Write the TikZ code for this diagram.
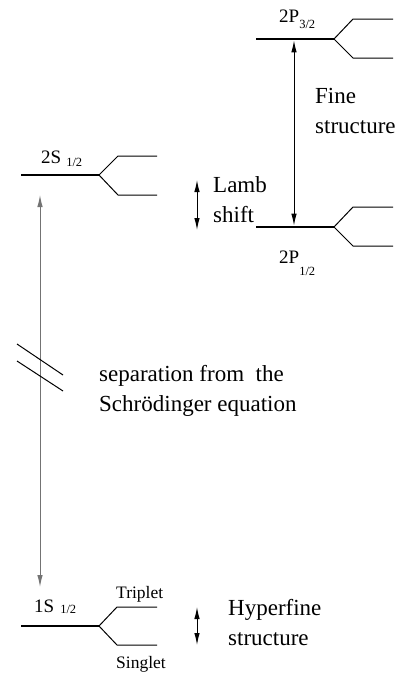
\documentclass[tikz,border=0pt]{standalone}
\usepackage{fontspec}
\setmainfont{Liberation Serif}
\usetikzlibrary{arrows.meta}
\tikzset{
  level/.style={line width=2.8pt},
  fork/.style={line width=1pt},
  dbl/.style={line width=1pt,{Latex[length=12pt,width=5.5pt]}-{Latex[length=12pt,width=5.5pt]}},
  lbl/.style={inner sep=0pt,anchor=base west,font=\fontsize{19}{22}\selectfont},
  txt/.style={inner sep=0pt,anchor=base west,align=left,font=\fontsize{23}{30}\selectfont},
  small/.style={inner sep=0pt,anchor=base west,font=\fontsize{17.5}{20}\selectfont},
}
\newcommand{\subsz}{\fontsize{12.5}{14}\selectfont}
\begin{document}
\begin{tikzpicture}[x=1pt,y=-1pt]
\useasboundingbox (0,0) rectangle (416,673);
% 2P3/2
\coordinate (p3a) at (256,39); \coordinate (p3b) at (334,39);
\coordinate (p3u) at (353,19); \coordinate (p3ue) at (393,19);
\coordinate (p3d) at (353,58); \coordinate (p3de) at (393,58);
\draw[level] (p3a) -- (p3b);
\draw[fork] (p3ue) -- (p3u) -- (p3b) -- (p3d) -- (p3de);
% 2P1/2
\coordinate (p1a) at (256,227); \coordinate (p1b) at (334,227);
\coordinate (p1u) at (353,207); \coordinate (p1ue) at (393,207);
\coordinate (p1d) at (353,246); \coordinate (p1de) at (393,246);
\draw[level] (p1a) -- (p1b);
\draw[fork] (p1ue) -- (p1u) -- (p1b) -- (p1d) -- (p1de);
% 2S1/2
\coordinate (s2a) at (21,175); \coordinate (s2b) at (99,175);
\coordinate (s2u) at (118,156); \coordinate (s2ue) at (157,156);
\coordinate (s2d) at (118,195); \coordinate (s2de) at (157,195);
\draw[level] (s2a) -- (s2b);
\draw[fork] (s2ue) -- (s2u) -- (s2b) -- (s2d) -- (s2de);
% 1S1/2
\coordinate (s1a) at (21,626); \coordinate (s1b) at (99,626);
\coordinate (s1u) at (117,607); \coordinate (s1ue) at (157,607);
\coordinate (s1d) at (117,645); \coordinate (s1de) at (157,645);
\draw[level] (s1a) -- (s1b);
\draw[fork] (s1ue) -- (s1u) -- (s1b) -- (s1d) -- (s1de);
% labels
\node[lbl] (l2p3) at (279,22) {2P\raisebox{-6pt}{\subsz 3/2}};
\node[lbl] (l2p1) at (279,263) {2P\raisebox{-12pt}{\subsz 1/2}};
\node[lbl] (l2s) at (41,163) {2S\hspace{5pt}\raisebox{-3pt}{\subsz 1/2}};
\node[lbl] (l1s) at (34,612) {1S\hspace{6pt}\raisebox{-1pt}{\subsz 1/2}};
\node[small] (trip) at (116,598) {Triplet};
\node[small] (sing) at (116,668) {Singlet};
% arrows
\coordinate (fa) at (294,40.4); \coordinate (fb) at (294,225.6);
\draw[dbl] (fa) -- (fb);
\coordinate (la) at (197,180); \coordinate (lb) at (197,230);
\draw[dbl] (la) -- (lb);
\coordinate (ha) at (197,607); \coordinate (hb) at (197,645);
\draw[dbl] (ha) -- (hb);
\coordinate (va) at (40,195); \coordinate (vb) at (40,587);
\draw[dbl,draw=black!55,fill=black] (va) -- (vb);
% break marks
\coordinate (b1a) at (17,344); \coordinate (b1b) at (63,375);
\coordinate (b2a) at (17,361); \coordinate (b2b) at (63,391);
\draw[fork] (b1a) -- (b1b);
\draw[fork] (b2a) -- (b2b);
% texts (base anchor = baseline of the last line)
\node[txt] (fine) at (315,133) {Fine\\structure};
\node[txt] (lamb) at (213,222) {Lamb\\shift};
\node[txt] (sep) at (99,411) {separation from\ \ the\\Schr\"odinger equation};
\node[txt] (hyp) at (228,645) {Hyperfine\\structure};
\end{tikzpicture}
\end{document}
